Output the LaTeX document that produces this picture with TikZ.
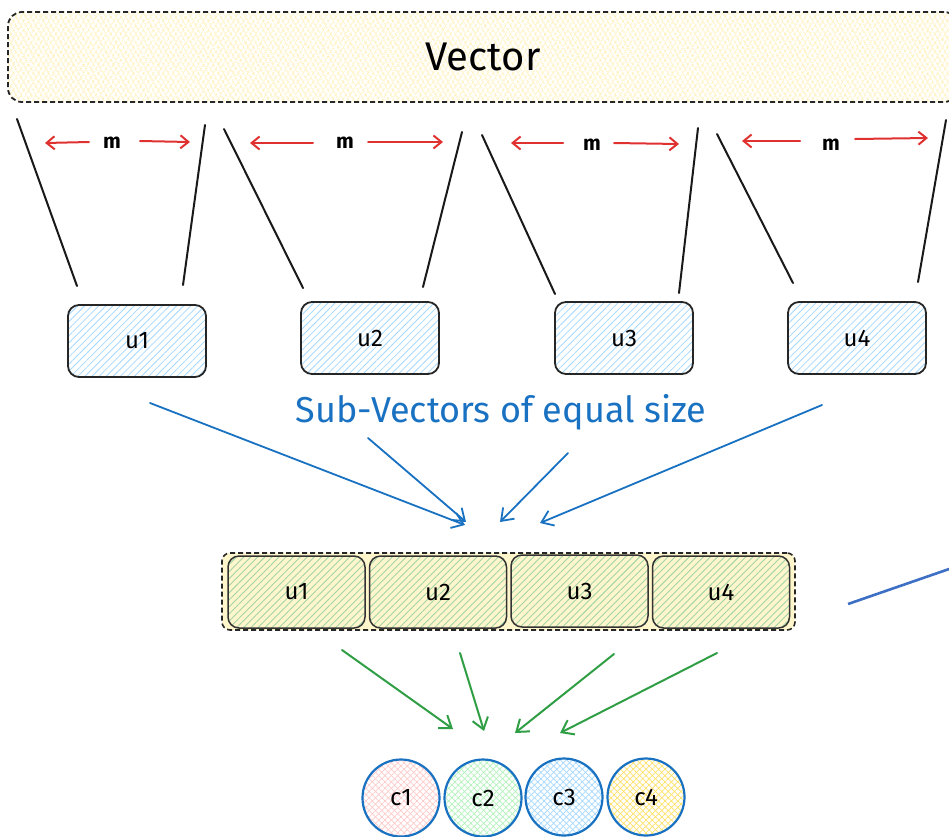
\documentclass[tikz,border=0pt]{standalone}
\usepackage{fontspec}
\setmainfont{Fira Sans}
\usetikzlibrary{patterns.meta,arrows.meta}

\definecolor{inkred}{HTML}{E03131}
\definecolor{inkblue}{HTML}{1971C2}
\definecolor{inkgreen}{HTML}{2F9E44}
\definecolor{lineblue}{HTML}{3D6FC4}
\definecolor{hatchblue}{HTML}{A5D8FF}
\definecolor{hatchgreen}{HTML}{B2F2BB}
\definecolor{hatchpink}{HTML}{FFC9C9}
\definecolor{hatchyellow}{HTML}{FFE066}
\definecolor{paleyellow}{HTML}{FFF6CC}

\tikzset{
  sidelinestyle/.style={draw=black!90, line width=2pt, line cap=round},
  redarrow/.style={draw=inkred, line width=2pt, line cap=round, -{Straight Barb[length=8pt,width=13pt]}},
  bluearrow/.style={draw=inkblue, line width=1.8pt, line cap=round, -{Straight Barb[length=11pt,width=16pt]}},
  greenarrow/.style={draw=inkgreen, line width=2pt, line cap=round, -{Straight Barb[length=11pt,width=16pt]}},
  mlabel/.style={font=\fontsize{21}{22}\selectfont\bfseries, inner sep=1pt},
  ubox/.style={draw=black!85, line width=1.8pt, rounded corners=11pt,
    minimum width=138pt, minimum height=72pt, inner sep=0pt,
    pattern={Lines[angle=45,distance=5pt,line width=0.8pt]}, pattern color=hatchblue,
    font=\fontsize{24}{26}\selectfont},
  segbox/.style={draw=black!80, line width=1.5pt, rounded corners=11pt,
    minimum width=137pt, minimum height=72pt, inner sep=0pt,
    preaction={fill=paleyellow},
    pattern={Lines[angle=45,distance=5pt,line width=0.9pt]}, pattern color=hatchgreen!85!black!90,
    font=\fontsize{24}{26}\selectfont},
  cnode/.style={circle, draw=inkblue, line width=2.2pt, minimum size=77pt, inner sep=0pt,
    preaction={pattern={Lines[angle=45,distance=4.5pt,line width=0.7pt]}, pattern color=#1},
    pattern={Lines[angle=-45,distance=4.5pt,line width=0.7pt]}, pattern color=#1,
    font=\fontsize{24}{26}\selectfont},
}

\begin{document}
\begin{tikzpicture}[x=1pt,y=-1pt]
\useasboundingbox (0,0) rectangle (949,836);

% the whole vector
\node[draw=black!85, dash pattern=on 5pt off 3pt, line width=1.8pt, rounded corners=14pt,
      minimum width=950pt, minimum height=90pt, inner sep=0pt,
      preaction={pattern={Lines[angle=60,distance=4pt,line width=0.7pt]}, pattern color=hatchyellow!70},
      pattern={Lines[angle=-60,distance=4pt,line width=0.7pt]}, pattern color=hatchyellow!70,
      font=\fontsize{40}{44}\selectfont] (vec) at (483,57) {Vector};

% sides of each slice
\coordinate (s1a) at (17,119);  \coordinate (s1b) at (77,286);
\coordinate (s1c) at (205,125); \coordinate (s1d) at (183,285);
\coordinate (s2a) at (224,129); \coordinate (s2b) at (303,288);
\coordinate (s2c) at (462,132); \coordinate (s2d) at (423,287);
\coordinate (s3a) at (482,135); \coordinate (s3b) at (555,294);
\coordinate (s3c) at (698,128); \coordinate (s3d) at (679,293);
\coordinate (s4a) at (717,134); \coordinate (s4b) at (793,283);
\coordinate (s4c) at (946,120); \coordinate (s4d) at (918,282);
\foreach \i in {1,2,3,4}{
  \draw[sidelinestyle] (s\i a) -- (s\i b);
  \draw[sidelinestyle] (s\i c) -- (s\i d);
}

% slice widths
\node[mlabel] (m1) at (112,143) {m};
\node[mlabel] (m2) at (345,143) {m};
\node[mlabel] (m3) at (592,145) {m};
\node[mlabel] (m4) at (831,145) {m};
\coordinate (r1a) at (89,142);  \coordinate (r1b) at (45,143);
\coordinate (r1c) at (140,141); \coordinate (r1d) at (190,142);
\coordinate (r2a) at (313,143); \coordinate (r2b) at (250,143);
\coordinate (r2c) at (368,142); \coordinate (r2d) at (443,142);
\coordinate (r3a) at (563,143); \coordinate (r3b) at (511,143);
\coordinate (r3c) at (614,143); \coordinate (r3d) at (679,144);
\coordinate (r4a) at (800,141); \coordinate (r4b) at (742,141);
\coordinate (r4c) at (855,139); \coordinate (r4d) at (928,138);
\foreach \i in {1,2,3,4}{
  \draw[redarrow] (r\i a) -- (r\i b);
  \draw[redarrow] (r\i c) -- (r\i d);
}

% sub-vectors
\node[ubox] (u1) at (137,341) {u1};
\node[ubox] (u2) at (370,338) {u2};
\node[ubox] (u3) at (624,338) {u3};
\node[ubox] (u4) at (857,338) {u4};

\node[text=inkblue, font=\fontsize{36}{38}\selectfont, inner sep=2pt] (caption) at (501,412) {Sub-Vectors of equal size};

% concatenated sub-vectors
\node[draw=black!85, dash pattern=on 5pt off 3pt, line width=1.6pt, rounded corners=8pt,
      minimum width=573pt, minimum height=77pt, inner sep=0pt, fill=paleyellow] (bar) at (508.5,591.5) {};
\node[segbox] (v1) at (296.5,592) {u1};
\node[segbox] (v2) at (438,592) {u2};
\node[segbox] (v3) at (579.5,591) {u3};
\node[segbox] (v4) at (721,592) {u4};

% blue arrows towards the bar
\coordinate (b1s) at (150,403); \coordinate (b1e) at (465,525);
\coordinate (b2s) at (368,438); \coordinate (b2e) at (466,522);
\coordinate (b3s) at (568,453); \coordinate (b3e) at (500,522);
\coordinate (b4s) at (822,405); \coordinate (b4e) at (540,523);
\foreach \i in {1,2,3,4}{
  \draw[bluearrow] (b\i s) -- (b\i e);
}

% codebook entries
\node[cnode=hatchpink]   (c1) at (401,798) {c1};
\node[cnode=hatchgreen]  (c2) at (483,798) {c2};
\node[cnode=hatchblue]   (c3) at (564,797) {c3};
\node[cnode=hatchyellow] (c4) at (646,797) {c4};

% green arrows towards the codes
\coordinate (g1s) at (342,650); \coordinate (g1e) at (453,729);
\coordinate (g2s) at (460,653); \coordinate (g2e) at (484,731);
\coordinate (g3s) at (614,654); \coordinate (g3e) at (515,733);
\coordinate (g4s) at (717,653); \coordinate (g4e) at (560,733);
\foreach \i in {1,2,3,4}{
  \draw[greenarrow] (g\i s) -- (g\i e);
}

% stroke leaving on the right
\coordinate (ls) at (848,604); \coordinate (le) at (952,568);
\draw[draw=lineblue, line width=2.6pt] (ls) -- (le);
\end{tikzpicture}
\end{document}
